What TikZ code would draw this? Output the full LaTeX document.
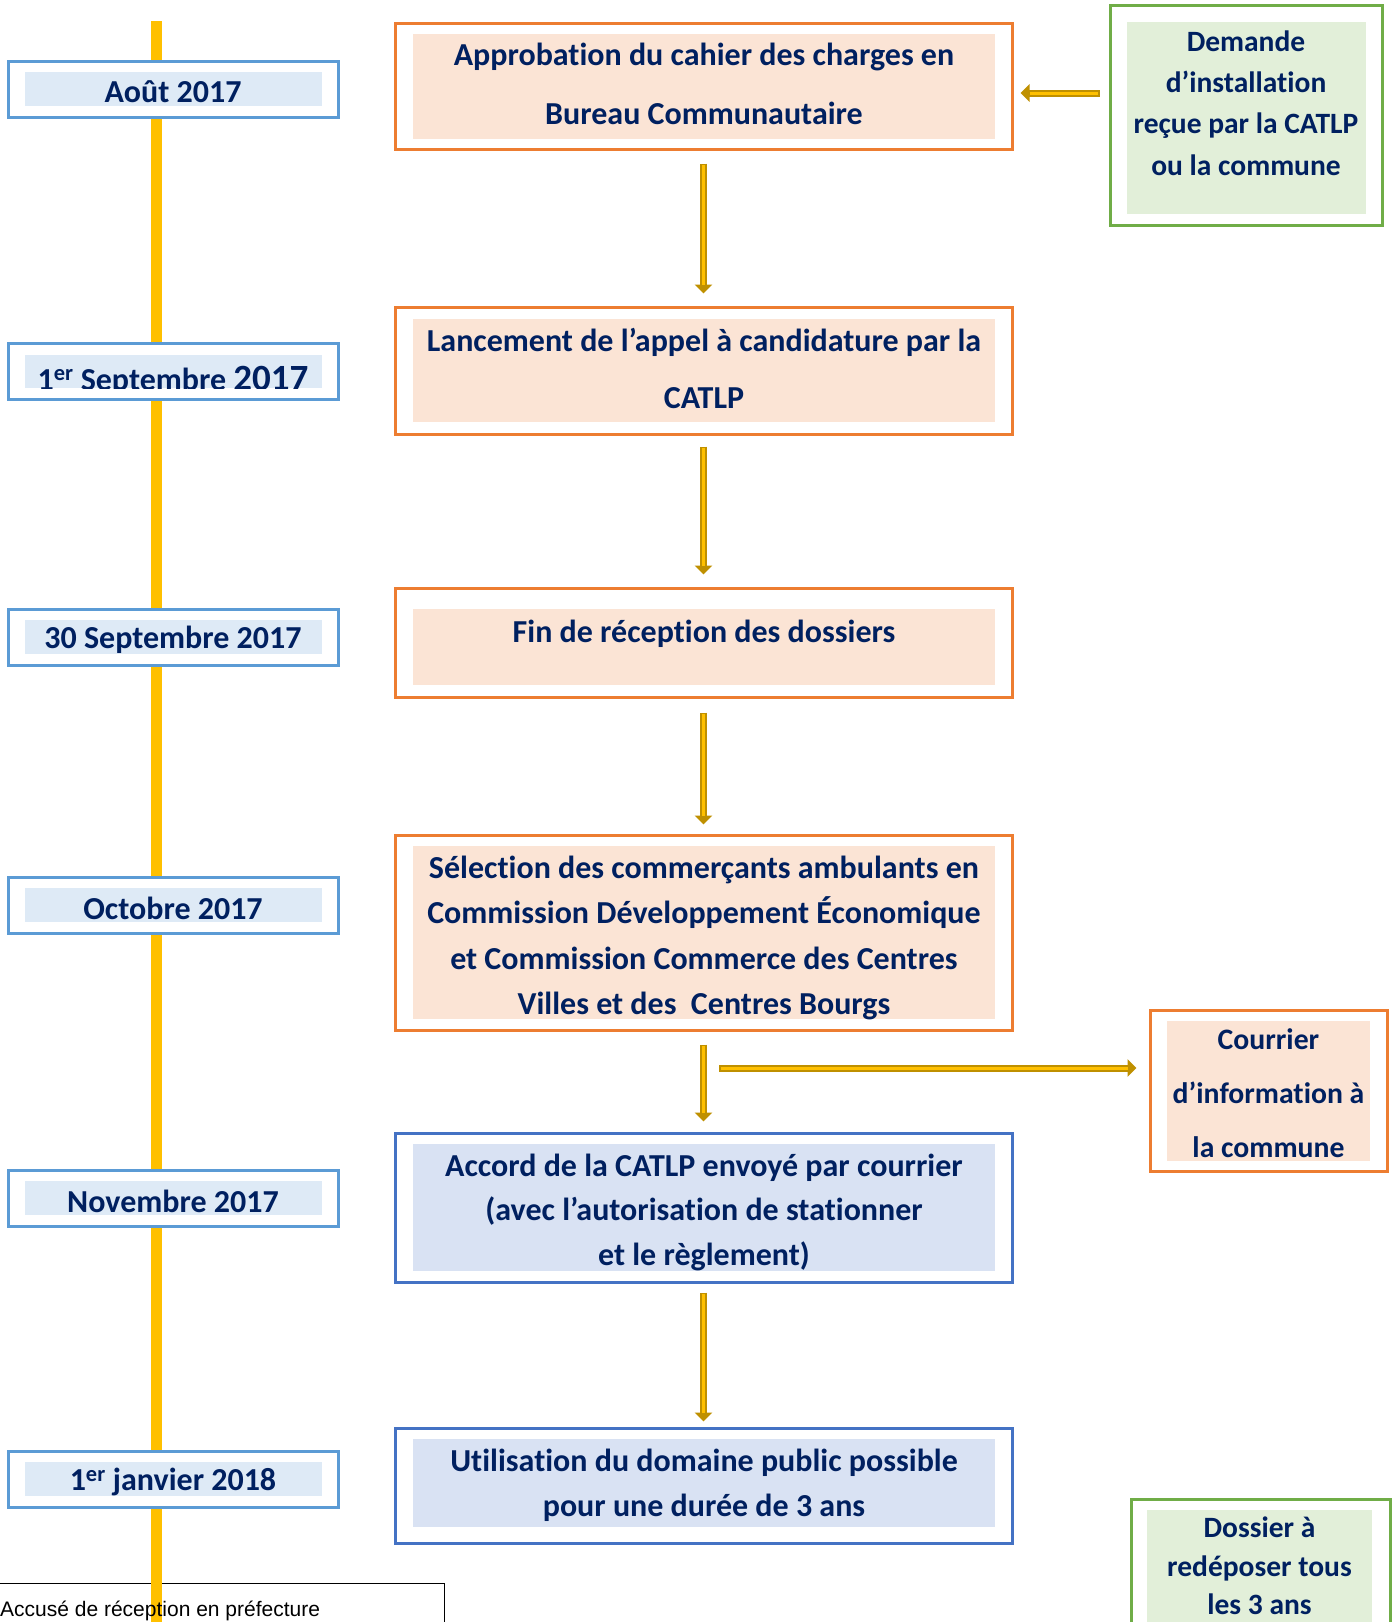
\documentclass[tikz,border=0pt]{standalone}
\usepackage{fontspec}
\setmainfont{Carlito}[Ligatures=NoCommon]
\newfontfamily\arialf{Liberation Sans}
\usetikzlibrary{arrows.meta}
\definecolor{navy}{HTML}{002060}
\definecolor{oborder}{HTML}{ED7D31}
\definecolor{ofill}{HTML}{FBE4D5}
\definecolor{bborder}{HTML}{4472C4}
\definecolor{bfill}{HTML}{D9E2F3}
\definecolor{dborder}{HTML}{5B9BD5}
\definecolor{dfill}{HTML}{DEEAF6}
\definecolor{gborder}{HTML}{70AD47}
\definecolor{gfill}{HTML}{E2EFD9}
\definecolor{tline}{HTML}{FFC000}
\definecolor{arrowdk}{HTML}{BF9000}
\definecolor{arrowlt}{HTML}{FFC000}
\newcommand\garr[4]{%
  \draw[draw=arrowdk, line width=7pt, shorten <=#3, shorten >=#4,
        -{Triangle[length=9pt,width=17pt]}] (#1) -- (#2);
  \draw[arrowlt, line width=3pt, shorten <=#3+1.5pt, shorten >=#4+9pt] (#1) -- (#2);}
\begin{document}
\begin{tikzpicture}[x=1pt,y=-1pt,
  obox/.style={draw=oborder, line width=3pt, fill=white, minimum width=617pt, inner sep=0pt},
  bbox/.style={draw=bborder, line width=3pt, fill=white, minimum width=617pt, inner sep=0pt},
  dbox/.style={draw=dborder, line width=3pt, fill=white, minimum width=330pt, minimum height=56pt, inner sep=0pt},
  gbox/.style={draw=gborder, line width=3pt, fill=white, inner sep=0pt},
  txt/.style={text=navy, font=\bfseries\fontsize{32}{45}\selectfont, align=center, inner sep=0pt},
  dtxt/.style={text=navy, font=\bfseries\fontsize{32}{35}\selectfont, inner sep=0pt},
]
\useasboundingbox (0,0) rectangle (1397,1622);
\fill[white] (0,0) rectangle (1397,1622);

% bottom-left box (behind timeline)
\node (acc) [draw=black, line width=1pt, minimum width=446pt, minimum height=80pt, anchor=north west, inner sep=0pt] at (-2,1583) {};

% timeline
\fill[tline] (151,21) rectangle (162,1622);

% date boxes
\node (d1) [dbox] at (173,89) {};
\fill[dfill] (25,72) rectangle (322,106);
\node[dtxt] at (173,92) {Août 2017};

\node (d2) [dbox] at (173,371.5) {};
\fill[dfill] (25,355) rectangle (322,388);
\begin{scope}
\clip (25,355) rectangle (322,388);
\node[dtxt, anchor=base] at (173,390) {1\textsuperscript{er} Septembre {\fontsize{37}{38}\selectfont 2017}};
\end{scope}

\node (d3) [dbox] at (173,637) {};
\fill[dfill] (25,620) rectangle (322,654);
\node[dtxt] at (173,640) {30 Septembre 2017};

\node (d4) [dbox] at (173,905) {};
\fill[dfill] (25,888) rectangle (322,922);
\node[dtxt] at (173,908) {Octobre 2017};

\node (d5) [dbox] at (173,1198) {};
\fill[dfill] (25,1181) rectangle (322,1215);
\node[dtxt] at (173,1201) {Novembre 2017};

\node (d6) [dbox] at (173,1479) {};
\fill[dfill] (25,1462) rectangle (322,1496);
\node[dtxt] at (173,1482) {1\textsuperscript{er} janvier 2018};

% main boxes
\node (b1) [obox, minimum height=126pt] at (703.5,86) {};
\fill[ofill] (413,34) rectangle (995,139);
\node[txt, font=\bfseries\fontsize{32}{59}\selectfont] at (704,84) {Approbation du cahier des charges en\\Bureau Communautaire};

\node (b2) [obox, minimum height=127pt] at (703.5,370.5) {};
\fill[ofill] (413,319) rectangle (995,422);
\node[txt, font=\bfseries\fontsize{32}{57}\selectfont] at (704,368) {Lancement de l’appel à candidature par la\\CATLP};

\node (b3) [obox, minimum height=109pt] at (703.5,642.5) {};
\fill[ofill] (413,609) rectangle (995,685);
\node[txt] at (704,634) {Fin de réception des dossiers};

\node (b4) [obox, minimum height=195pt] at (703.5,932.5) {};
\fill[ofill] (413,846) rectangle (995,1019);
\node[txt, font=\bfseries\fontsize{32}{45.5}\selectfont] at (704,938) {Sélection des commerçants ambulants en\\Commission Développement Économique\\et Commission Commerce des Centres\\Villes et des\ \ Centres Bourgs};

\node (b5) [bbox, minimum height=149pt] at (703.5,1207.5) {};
\fill[bfill] (413,1144) rectangle (995,1271);
\node[txt, font=\bfseries\fontsize{32}{44.5}\selectfont] at (704,1212) {Accord de la CATLP envoyé par courrier\\(avec l’autorisation de stationner\\et le règlement)};

\node (b6) [bbox, minimum height=115pt] at (703.5,1485.5) {};
\fill[bfill] (413,1439) rectangle (995,1527);
\node[txt, font=\bfseries\fontsize{32}{45}\selectfont] at (704,1485) {Utilisation du domaine public possible\\pour une durée de 3 ans};

% right boxes
\node (gr) [gbox, minimum width=272pt, minimum height=220pt] at (1246,115) {};
\fill[gfill] (1127,22) rectangle (1366,214);
\node[txt, font=\bfseries\fontsize{29.5}{41.3}\selectfont] at (1246,103) {Demande\\d’installation\\reçue par la CATLP\\ou la commune};

\node (cour) [obox, minimum width=237pt, minimum height=161pt] at (1268.5,1090.5) {};
\fill[ofill] (1167,1021) rectangle (1370,1161);
\node[txt, font=\bfseries\fontsize{29.7}{54}\selectfont] at (1268.5,1093) {Courrier\\d’information à\\la commune};

\node (dos) [gbox, minimum width=259pt, minimum height=150pt, anchor=north west] at (1130,1498) {};
\fill[gfill] (1147,1510) rectangle (1372,1640);
\node[txt, font=\bfseries\fontsize{29.5}{38.5}\selectfont] at (1259.5,1566) {Dossier à\\redéposer tous\\les 3 ans};

% bottom-left text
\node[anchor=base west, inner sep=0pt, font=\arialf\fontsize{21}{24}\selectfont] at (0,1616) {Accusé de réception en préfecture};

% arrows
\garr{b1.south}{b2.north}{13pt}{12pt}
\garr{b2.south}{b3.north}{11pt}{12pt}
\garr{b3.south}{b4.north}{14pt}{9pt}
\garr{b4.south}{b5.north}{13pt}{10pt}
\garr{b5.south}{b6.north}{9pt}{5pt}
\coordinate (b1r) at ([yshift=-7pt]b1.east);
\garr{gr.west |- b1r}{b1r}{9pt}{7pt}
\coordinate (split) at (719,1068);
\garr{split}{split -| cour.west}{0pt}{12pt}
\end{tikzpicture}
\end{document}
